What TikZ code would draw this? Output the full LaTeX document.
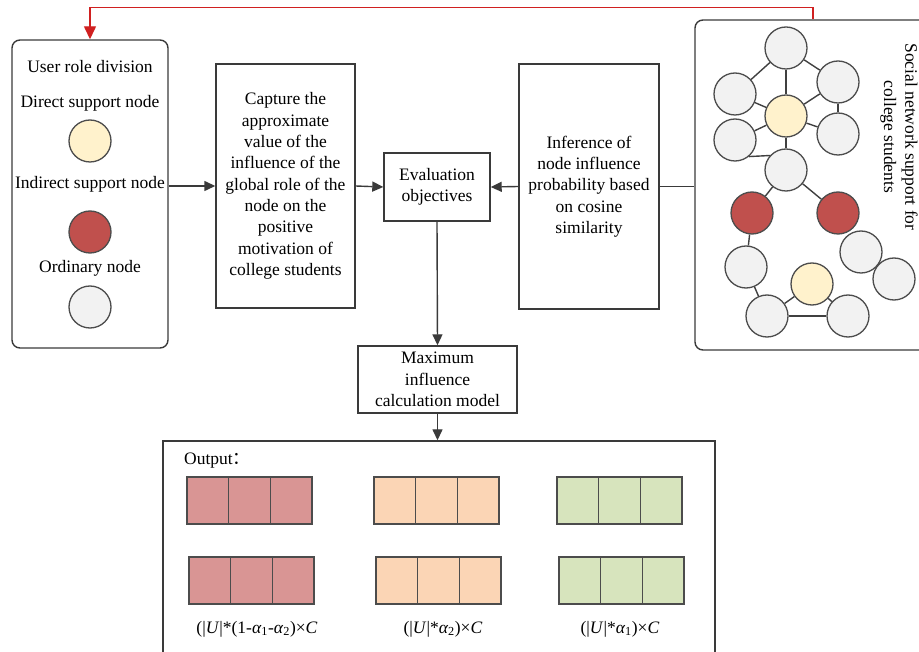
\documentclass[tikz,border=0pt]{standalone}
\usepackage{fontspec}
\setmainfont{LiberationSerif}[Extension=.ttf, UprightFont=*-Regular, ItalicFont=*-Italic, BoldFont=*-Bold, BoldItalicFont=*-BoldItalic]
\newfontfamily\cjk{Noto Sans CJK SC}
\usetikzlibrary{arrows.meta}
\definecolor{lnc}{HTML}{3A3A3A}
\definecolor{redln}{HTML}{D02020}
\definecolor{cyel}{HTML}{FFF2CC}
\definecolor{cred}{HTML}{C0504D}
\definecolor{cgray}{HTML}{F2F2F2}
\definecolor{fred}{HTML}{D99594}
\definecolor{fpeach}{HTML}{FBD5B5}
\definecolor{fgreen}{HTML}{D7E4BD}
\tikzset{
  box/.style={draw=lnc, line width=1.4pt, align=center, inner sep=0pt},
  rbox/.style={box, rounded corners=8pt},
  conn/.style={draw=lnc, line width=1.4pt, -{Triangle[length=11pt,width=10pt]}},
  plainln/.style={draw=lnc, line width=1.4pt},
  redconn/.style={draw=redln, line width=1.4pt, -{Triangle[length=13pt,width=12pt]}},
  circ/.style={circle, draw=black!70, line width=1.3pt, minimum size=42pt, inner sep=0pt},
  ylw/.style={circ, fill=cyel},
  rd/.style={circ, fill=cred},
  gr/.style={circ, fill=cgray},
  edge/.style={draw=black!75, line width=1.4pt},
  cell/.style={draw=black!70, line width=1.4pt, minimum width=41.7pt, minimum height=47pt, inner sep=0pt},
  lbl/.style={inner sep=0pt, align=center},
}
\begin{document}
\begin{tikzpicture}[x=1pt,y=-1pt,font=\fontsize{17.5}{21.3}\selectfont]
\useasboundingbox (0,0) rectangle (919,652);
\clip (0,0) rectangle (919,652);

% left panel
\node[rbox, minimum width=156pt, minimum height=308pt] (role) at (90,194) {};
\node[lbl] (t1) at (90,67) {User role division};
\node[lbl] (t2) at (90,103) {Direct support node};
\node[ylw] (c1) at (90,141) {};
\node[lbl] (t3) at (90,184) {Indirect support node};
\node[rd] (c2) at (90,232) {};
\node[lbl] (t4) at (90,268) {Ordinary node};
\node[gr] (c3) at (90,307) {};

% middle boxes
\node[box, minimum width=139pt, minimum height=244pt] (cap) at (285.5,186)
  {Capture the\\approximate\\value of the\\influence of the\\global role of the\\node on the\\positive\\motivation of\\college students};
\node[box, minimum width=106pt, minimum height=68pt] (eval) at (437,187) {Evaluation\\objectives};
\node[box, minimum width=140pt, minimum height=245pt] (inf) at (589,186.5)
  {Inference of\\node influence\\probability based\\on cosine\\similarity};
\node[box, minimum width=159pt, minimum height=67pt] (max) at (437.5,379.5)
  {Maximum\\influence\\calculation model};

% network panel
\node[rbox, minimum width=236pt, minimum height=330pt] (net) at (813,185) {};
\node[gr] (n1) at (786,48) {};
\node[gr] (n2) at (735,94) {};
\node[gr] (n3) at (838,82) {};
\node[ylw] (n4) at (786,116) {};
\node[gr] (n5) at (838,134) {};
\node[gr] (n6) at (735,140) {};
\node[gr] (n7) at (786,170) {};
\node[rd] (n8) at (752,213) {};
\node[rd] (n9) at (838,213) {};
\node[gr] (n10) at (861,252) {};
\node[gr] (n11) at (894,279) {};
\node[gr] (n12) at (746,267) {};
\node[ylw] (n13) at (812,284) {};
\node[gr] (n14) at (767,316) {};
\node[gr] (n15) at (848,316) {};
\draw[edge] (n1) -- (n2);
\draw[edge] (n1) -- (n3);
\draw[edge] (n1) -- (n4);
\draw[edge] (n2) -- (n4);
\draw[edge] (n3) -- (n4);
\draw[edge] (n3) -- (n5);
\draw[edge] (n4) -- (n5);
\draw[edge] (n4) -- (n6);
\draw[edge] (n4) -- (n7);
\draw[edge] (n6.-50) -- (n7.138);
\draw[edge] (n7) -- (n8);
\draw[edge] (n7) -- (n9);
\draw[edge] (n8) -- (n12);
\draw[edge] (n12) -- (n14);
\draw[edge] (n14) -- (n13);
\draw[edge] (n13) -- (n15);
\draw[edge] (n14) -- (n15);
\node[lbl, rotate=-90] (nett) at (899,137) {Social network support for\\college students};

% connectors
\draw[redconn] (net.north) -- ++(0,-12) -| (role.north);
\draw[conn] (role.east |- cap.west) -- (cap.west);
\draw[conn] (cap.east) -- (eval.west);
\draw[conn] (inf.west) -- (eval.east);
\draw[plainln] (inf.east) -- (net.west |- inf.east);
\draw[conn] (eval.south) -- (max.north);

% output
\node[box, minimum width=552pt, minimum height=230pt] (out) at (439,556) {};
\draw[conn] (max.south) -- (max.south |- out.north);
\node[lbl, anchor=west] (outt) at (184,461) {Output{\cjk ：}};

\foreach \nm/\col/\xa/\xb in {r/fred/187/189, p/fpeach/374/376, g/fgreen/557/559}{
  \foreach \i in {0,1,2}{
    \node[cell, fill=\col] (\nm a\i) at ({\xa+20.85+41.7*\i},500.5) {};
    \node[cell, fill=\col] (\nm b\i) at ({\xb+20.85+41.7*\i},580.5) {};
  }
}
\node[lbl] (f1) at (257,629) {(|\textit{U}|*(1-\textit{α}\textsubscript{1}-\textit{α}\textsubscript{2})×\textit{C}};
\node[lbl] (f2) at (443,629) {(|\textit{U}|*\textit{α}\textsubscript{2})×\textit{C}};
\node[lbl] (f3) at (620,629) {(|\textit{U}|*\textit{α}\textsubscript{1})×\textit{C}};
\end{tikzpicture}
\end{document}
